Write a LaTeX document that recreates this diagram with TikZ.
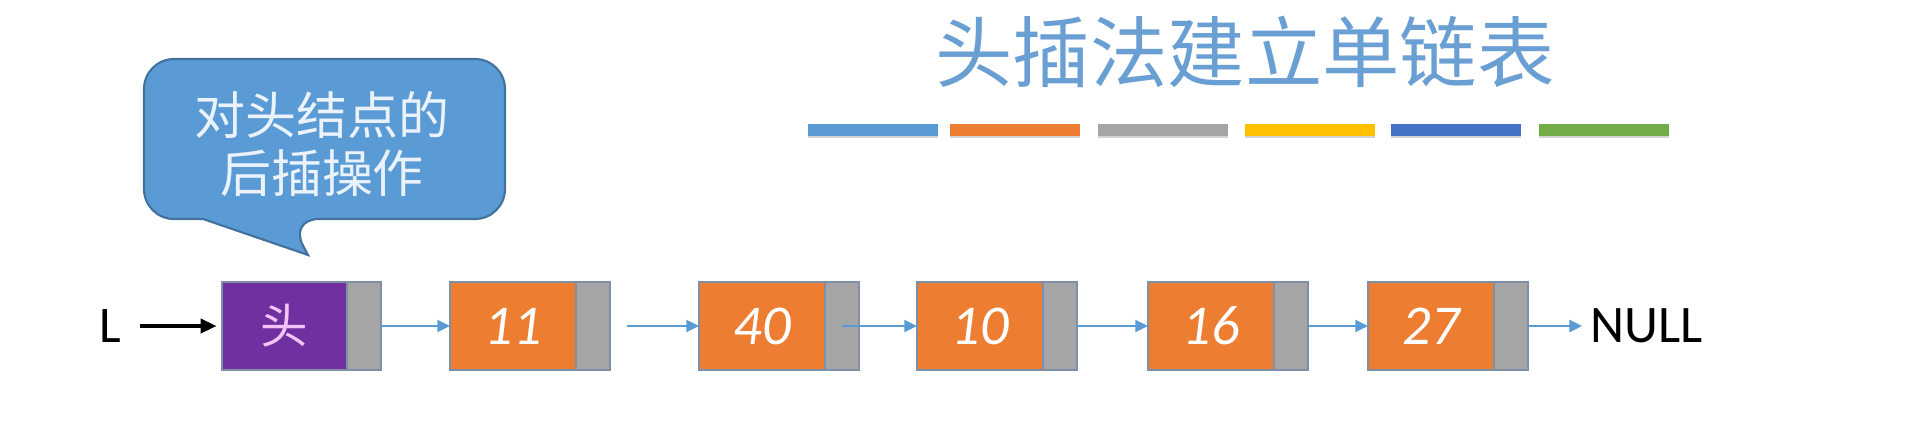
\documentclass[tikz,border=0pt]{standalone}
\usepackage{fontspec}
\setmainfont{Carlito}
\newfontfamily\cjk{Noto Sans CJK SC}
\usetikzlibrary{positioning,arrows.meta,shadows}

\definecolor{officeblue}{HTML}{5B9BD5}
\definecolor{officeorange}{HTML}{ED7D31}
\definecolor{officegray}{HTML}{A5A5A5}
\definecolor{officegold}{HTML}{FFC000}
\definecolor{officenavy}{HTML}{4472C4}
\definecolor{officegreen}{HTML}{70AD47}
\definecolor{headpurple}{HTML}{7030A0}
\definecolor{headtext}{HTML}{F2C4F7}
\definecolor{calloutline}{HTML}{41719C}
\definecolor{callouttext}{HTML}{EAF2FB}
\definecolor{boxline}{HTML}{7F8FA6}
\definecolor{titleblue}{HTML}{6A9FD3}

\tikzset{
  datbox/.style={draw=boxline, line width=0.5pt, fill=officeorange, minimum width=1.26cm,
    minimum height=0.88cm, inner sep=0pt, outer sep=0pt, text=white,
    font=\fontsize{16}{16}\selectfont\itshape},
  ptrbox/.style={draw=boxline, line width=0.5pt, fill=officegray, minimum width=0.34cm,
    minimum height=0.88cm, inner sep=0pt, outer sep=0pt},
  link/.style={officeblue, line width=0.7pt, -{Triangle[length=3.6pt,width=3.4pt]}},
  colorbar/.style={minimum width=1.29cm, minimum height=0.12cm, inner sep=0pt,
    drop shadow={shadow xshift=0pt, shadow yshift=-0.7pt, opacity=0.35}},
  callout/.style={draw=calloutline, line width=0.6pt, fill=officeblue}
}

\begin{document}
\begin{tikzpicture}[x=0.01cm, y=-0.01cm]
      \useasboundingbox (0,0) rectangle (1930,433);

      % title and colour strip
      \node[text=titleblue, font=\cjk\fontsize{22}{26}\selectfont] (title) at (1245,52) {头插法建立单链表};
      \foreach \c/\x [count=\i] in {officeblue/873, officeorange/1015, officegray/1163,
                                    officegold/1310, officenavy/1456, officegreen/1604}
      {
        \node[colorbar, fill=\c] (bar\i) at (\x,130) {};
      }

      % speech bubble
      \draw[callout] (203,219) [rounded corners=0.3cm] -- (144,219) -- (144,59) -- (505,59)
            -- (505,219) -- (289,219) [sharp corners] -- (308,255) -- cycle;
      \node[text=callouttext, align=center, font=\cjk\fontsize{14.5}{16.5}\selectfont] (tip) at (322,144)
            {对头结点的\\后插操作};

      % head node
      \node[datbox, fill=headpurple, minimum width=1.25cm, text=headtext,
            font=\cjk\fontsize{13.5}{14}\selectfont] (d0) at (284.5,326) {头};
      \node[ptrbox, right=0pt of d0] (p0) {};

      % list nodes
      \foreach \x/\v [count=\n] in {513/11, 762/40, 980/10, 1211/16, 1431/27}
      {
        \node[datbox] (d\n) at (\x,326) {\v};
        \node[ptrbox, right=0pt of d\n] (p\n) {};
      }

      \node[font=\fontsize{14.6}{15}\selectfont] (L) at (110,326) {L};
      \node[font=\fontsize{15}{15}\selectfont, inner sep=0pt, anchor=west, right=0.62cm of p5] (null) {NULL};

      \draw[line width=1.1pt, -{Triangle[length=4.6pt,width=4pt]}, shorten <=2pt, shorten >=1.5pt] (L) -- (d0);
      \draw[link] (p0) -- (d1);
      \draw[link, shorten <=0.17cm] (p1) -- (d2);
      \draw[link] (p2.center) -- (d3);
      \draw[link] (p3) -- (d4);
      \draw[link] (p4) -- (d5);
      \draw[link, shorten >=0.08cm] (p5) -- (null);

\end{tikzpicture}
\end{document}
